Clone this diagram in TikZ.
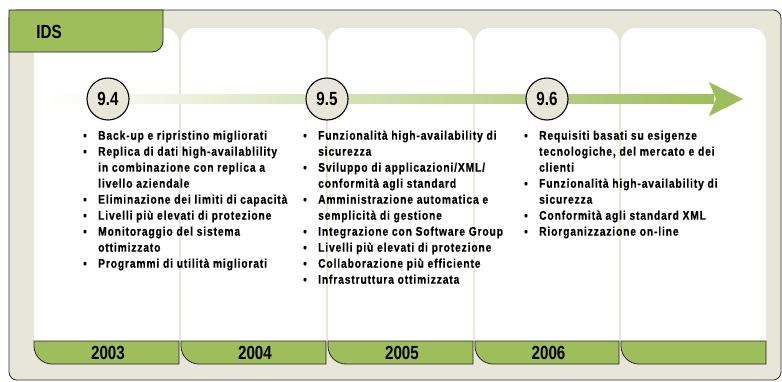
\documentclass[tikz,border=0pt]{standalone}
\usepackage{fontspec}
\setmainfont{Liberation Sans}
\newfontfamily\bodyfont{Liberation Sans}[FakeStretch=0.82,LetterSpace=7,FakeBold=0.4]
\newfontfamily\yearfont{Liberation Sans}[FakeStretch=0.8]
\usetikzlibrary{positioning}
\definecolor{tlgreen}{RGB}{158,190,92}
\definecolor{tlbeige}{RGB}{232,230,217}

\begin{document}
\begin{tikzpicture}[x=1pt,y=1pt,every node/.style={inner sep=0pt},
  release/.style={circle,draw,line width=1.1pt,fill=tlbeige,minimum size=42pt,font=\yearfont\bfseries\fontsize{19}{19}\selectfont},
  yeartab/.style={draw=black!85,line width=0.8pt,fill=tlgreen},
  year/.style={font=\yearfont\bfseries\fontsize{19}{19}\selectfont},
  featurelist/.style={anchor=north west,font=\bodyfont\bfseries\fontsize{12.5}{16}\selectfont}]
\useasboundingbox (0,0) rectangle (782,-381);
\fill[white] (0,0) rectangle (782,-381);
\draw[fill=tlbeige,draw=black!80,line width=0.8pt,rounded corners=8] (9,-10) rectangle (781,-380);
% columns
\foreach \xa/\xb in {34/179,181/326,328/473,475/619,621/766}{
  \fill[white] (\xa,-341) -- (\xa,-43) arc[start angle=180,end angle=90,radius=15] -- (\xb-15,-28) arc[start angle=90,end angle=0,radius=15] -- (\xb,-341) -- cycle;
  \draw[yeartab] (\xa,-341) -- (\xb,-341) -- (\xb,-364) -- (\xa+18,-364) arc[start angle=270,end angle=180,radius=18] -- cycle;
}
\foreach \xa/\xb/\yr in {34/179/2003,181/326/2004,328/473/2005,475/619/2006}
  \node[year] (Year\yr) at ({(\xa+\xb)/2+1.5},-353) {\yr};
% header tab
\draw[fill=tlgreen,draw=black!85,line width=0.8pt] (9,-10) -- (163,-10) -- (163,-41) arc[start angle=0,end angle=-90,radius=11] -- (9,-52) -- cycle;
\node[year] (IdsLabel) at (49,-32) {IDS};
% timeline
\coordinate (ShaftStart) at (45,-94.5);
\coordinate (ShaftEnd) at (714,-103.5);
\shade[left color=white,right color=tlgreen] (ShaftStart) rectangle (ShaftEnd);
\fill[tlgreen] (709,-82) -- (743,-99) -- (709,-116) -- (716,-99) -- cycle;
\node[release] (Rel94) at (108,-99) {9.4};
\node[release] (Rel95) at (327,-99) {9.5};
\node[release] (Rel96) at (547,-99) {9.6};
% feature lists
\node[featurelist] (List94) at (83,-128.3) {\begin{tabular}{@{}p{15pt}@{}l@{}}
\textbullet & Back-up e ripristino migliorati\\
\textbullet & Replica di dati high-availablility\\
 & in combinazione con replica a\\
 & livello aziendale\\
\textbullet & Eliminazione dei limiti di capacità\\
\textbullet & Livelli più elevati di protezione\\
\textbullet & Monitoraggio del sistema\\
 & ottimizzato\\
\textbullet & Programmi di utilità migliorati
\end{tabular}};
\node[featurelist] (List95) at (303,-128.3) {\begin{tabular}{@{}p{15pt}@{}l@{}}
\textbullet & Funzionalità high-availability di\\
 & sicurezza\\
\textbullet & Sviluppo di applicazioni/XML/\\
 & conformità agli standard\\
\textbullet & Amministrazione automatica e\\
 & semplicità di gestione\\
\textbullet & Integrazione con Software Group\\
\textbullet & Livelli più elevati di protezione\\
\textbullet & Collaborazione più efficiente\\
\textbullet & Infrastruttura ottimizzata
\end{tabular}};
\node[featurelist] (List96) at (524,-128.3) {\begin{tabular}{@{}p{15pt}@{}l@{}}
\textbullet & Requisiti basati su esigenze\\
 & tecnologiche, del mercato e dei\\
 & clienti\\
\textbullet & Funzionalità high-availability di\\
 & sicurezza\\
\textbullet & Conformità agli standard XML\\
\textbullet & Riorganizzazione on-line
\end{tabular}};
\end{tikzpicture}
\end{document}
